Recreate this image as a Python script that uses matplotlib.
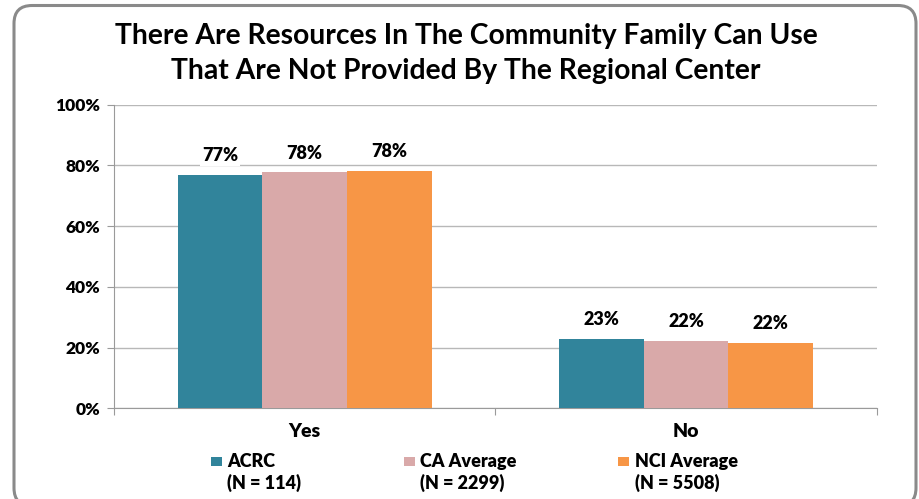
import matplotlib.pyplot as plt
import numpy as np
from matplotlib.patches import FancyBboxPatch
from matplotlib.transforms import IdentityTransform

# data
categories = ["Yes", "No"]
series_names = ["ACRC", "CA Average", "NCI Average"]
series_n = ["(N = 114)", "(N = 2299)", "(N = 5508)"]
acrc = [77.0, 22.8]
ca_avg = [77.7, 22.1]
nci_avg = [78.2, 21.5]
yticks = [0, 20, 40, 60, 80, 100]

colors = ["#31849B", "#D9A9A9", "#F79646"]
plt.rcParams["font.family"] = ["Lato", "DejaVu Sans"]

fig = plt.figure(figsize=(9.19, 4.99), dpi=100)

# rounded outer frame (pixel coords, bottom edge runs off the image)
frame = FancyBboxPatch((14, -7), 902, 500.5, boxstyle="round,pad=0,rounding_size=18",
                       transform=IdentityTransform(), facecolor="white", edgecolor="#8a8a8a",
                       linewidth=2.2, zorder=-5)
fig.patches.append(frame)

ax = fig.add_axes([0.124, 0.182, 0.830, 0.608])
ax.set_facecolor("none")

x = np.arange(len(categories))
width = 0.222
for i, vals in enumerate([acrc, ca_avg, nci_avg]):
    pos = x + (i - 1) * width
    ax.bar(pos, vals, width, color=colors[i], zorder=3)
    for p, v in zip(pos, vals):
        ax.text(p, v + 3.6, f"{round(v):.0f}%", ha="center", va="bottom", fontsize=13,
                fontweight="heavy", zorder=4,
                bbox=dict(facecolor="white", edgecolor="none", pad=1.5))

ax.set_xlim(-0.5, 1.5)
ax.set_ylim(0, 100)
ax.set_yticks(yticks)
ax.set_yticklabels([f"{t}%" for t in yticks], fontsize=12.5, fontweight="heavy")
ax.yaxis.grid(True, color="#b8b8b8", linewidth=1, zorder=0)
ax.tick_params(axis="y", length=5, color="#9a9a9a", pad=5)

ax.set_xticks([-0.5, 0.5, 1.5])
ax.set_xticklabels([])
ax.tick_params(axis="x", length=5, color="#9a9a9a")
for xi, c in zip(x, categories):
    ax.text(xi, -5, c, ha="center", va="top", fontsize=14, fontweight="heavy")

for s in ["top", "right"]:
    ax.spines[s].set_visible(False)
for s in ["left", "bottom"]:
    ax.spines[s].set_color("#9a9a9a")

fig.text(0.507, 0.927, "There Are Resources In The Community Family Can Use",
         ha="center", va="center", fontsize=20.3, fontweight="bold")
fig.text(0.507, 0.857, "That Are Not Provided By The Regional Center",
         ha="center", va="center", fontsize=20.3, fontweight="bold")

# legend drawn by hand to match the two-line entries
marker_x = [0.2296, 0.4396, 0.6725]
text_x = [0.247, 0.457, 0.691]
for mx, tx, name, n, c in zip(marker_x, text_x, series_names, series_n, colors):
    fig.patches.append(plt.Rectangle((mx, 0.066), 0.012, 0.019, transform=fig.transFigure,
                                     facecolor=c, edgecolor="none"))
    fig.text(tx, 0.076, name, ha="left", va="center", fontsize=13, fontweight="heavy")
    fig.text(tx, 0.032, n, ha="left", va="center", fontsize=13, fontweight="heavy")

fig.savefig("out.png", dpi=100)
